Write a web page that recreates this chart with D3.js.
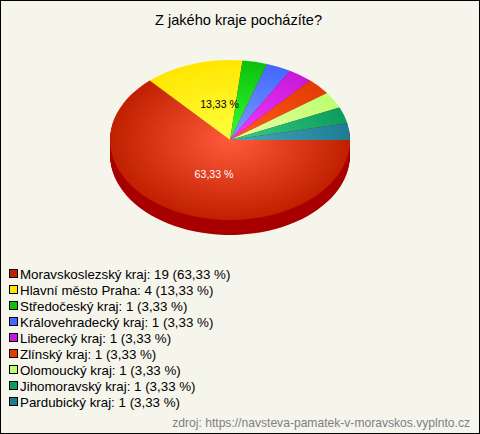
<!DOCTYPE html>
<html><head><meta charset="utf-8">
<script src="https://cdn.jsdelivr.net/npm/d3@7"></script>
<style>html,body{margin:0;padding:0;background:#f5f5ec}svg{display:block}text{font-family:"Liberation Sans",Arial,sans-serif}</style>
</head><body><svg id="c" width="480" height="434"></svg>
<script>
const categories=["Moravskoslezský kraj","Hlavní město Praha","Středočeský kraj","Královehradecký kraj","Liberecký kraj","Zlínský kraj","Olomoucký kraj","Jihomoravský kraj","Pardubický kraj"];
const counts=[19,4,1,1,1,1,1,1,1];
const percentLabels=["63,33 %","13,33 %","3,33 %","3,33 %","3,33 %","3,33 %","3,33 %","3,33 %","3,33 %"];
const edgeColors=["#c02000","#ffe600","#0cc00c","#4468ff","#c818d8","#e43c00","#bcff70","#0c9c5c","#1c7c94"];
const centerColors=["#ff5a3c","#ffff40","#33ff33","#7a9cff","#f03cff","#ff5c22","#e6ffa8","#38d088","#48aabc"];
const sideColor="#a80000";
const titleText="Z jakého kraje pocházíte?";
const sourceText="zdroj: https://navsteva-pamatek-v-moravskos.vyplnto.cz";

const W=480,H=434,cx=230,cy=140,rx=120,ry=80,depth=15;
const svg=d3.select("#c");
svg.append("rect").attr("x",.5).attr("y",.5).attr("width",W-1).attr("height",H-1).attr("fill","#f5f5ec").attr("stroke","#000");
svg.append("text").attr("x",238.5).attr("y",25).attr("text-anchor","middle").attr("font-size",14.6).attr("fill","#000").text(titleText);

const defs=svg.append("defs");
edgeColors.forEach((c,i)=>{
  const g=defs.append("radialGradient").attr("id","g"+i).attr("gradientUnits","userSpaceOnUse").attr("cx",0).attr("cy",0).attr("r",rx);
  g.append("stop").attr("offset",0).attr("stop-color",centerColors[i]);
  g.append("stop").attr("offset",1).attr("stop-color",c);
});
const pie=d3.pie().sort(null).startAngle(Math.PI/2).endAngle(Math.PI/2+2*Math.PI);
const arcs=pie(counts);
const arc=d3.arc().innerRadius(0).outerRadius(rx);
const sy=ry/rx;
d3.range(depth,0,-1).forEach(d=>{
  svg.append("g").attr("transform",`translate(${cx},${cy+d}) scale(1,${sy})`)
    .selectAll("path").data(arcs).join("path").attr("d",arc).attr("fill",sideColor);
});
const topFace=svg.append("g").attr("transform",`translate(${cx},${cy}) scale(1,${sy})`);
topFace.selectAll("path").data(arcs).join("path").attr("d",arc).attr("fill",(d,i)=>`url(#g${i})`);

const labelArc=d3.arc().innerRadius(rx*.47).outerRadius(rx*.47);
[0,1].forEach(i=>{
  const [x,y]=labelArc.centroid(arcs[i]);
  svg.append("text").attr("x",cx+x+7).attr("y",cy+y*sy+4).attr("text-anchor","middle").attr("font-size",10.6)
    .attr("fill",i===0?"#fff":"#000").text(percentLabels[i]);
});

const y=d3.scalePoint().domain(categories).range([274,402]);
const lg=svg.append("g").selectAll("g").data(categories).join("g").attr("transform",d=>`translate(0,${y(d)})`);
lg.append("rect").attr("x",9.5).attr("y",-4.5).attr("width",8).attr("height",8).attr("fill",(d,i)=>edgeColors[i]).attr("stroke","#000");
lg.append("text").attr("x",20).attr("y",4.5).attr("font-size",13.33).attr("fill","#000")
  .text((d,i)=>`${d}: ${counts[i]} (${percentLabels[i]})`);
svg.append("text").attr("x",470).attr("y",427).attr("text-anchor","end").attr("font-size",12.1).attr("fill","#808080").text(sourceText);
</script></body></html>
